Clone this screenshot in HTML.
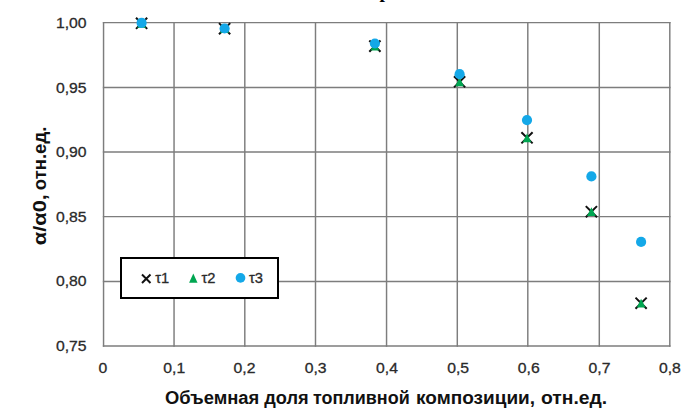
<!DOCTYPE html>
<html><head><meta charset="utf-8">
<style>
html,body{margin:0;padding:0;background:#fff;}
body{width:700px;height:413px;overflow:hidden;position:relative;}
svg{position:absolute;left:0;top:0;}
.lab{font-family:"Liberation Sans",sans-serif;font-size:15.0px;fill:#2a2a2a;stroke:#2a2a2a;stroke-width:0.3px;}
.leg{font-family:"Liberation Sans",sans-serif;font-size:14.7px;fill:#2a2a2a;stroke:#2a2a2a;stroke-width:0.3px;}
.tit{font-family:"Liberation Sans",sans-serif;font-size:18.9px;font-weight:bold;fill:#111;}
</style></head>
<body>
<svg width="700" height="413" viewBox="0 0 700 413">
<text x="379.6" y="-2.2" style="font-family:'Liberation Serif',serif;font-size:19.5px;font-weight:bold;fill:#000">р</text>
<g stroke="#7d7d7d" stroke-width="1.45" fill="none" stroke-linecap="square">
<path d="M103.55 22.6H669.8M103.55 87.4H669.8M103.55 152.0H669.8M103.55 216.6H669.8M103.55 281.4H669.8M103.55 346.0H669.8"/>
<path d="M103.55 22.6V346.0M174.05 22.6V346.0M244.8 22.6V346.0M315.5 22.6V346.0M386.55 22.6V346.0M457.3 22.6V346.0M527.8 22.6V346.0M599.3 22.6V346.0M669.8 22.6V346.0"/>
</g>
<g class="lab" text-anchor="end">
<text x="86.6" y="28.0" textLength="30.65" lengthAdjust="spacingAndGlyphs">1,00</text>
<text x="86.6" y="92.6" textLength="30.65" lengthAdjust="spacingAndGlyphs">0,95</text>
<text x="86.6" y="157.2" textLength="30.65" lengthAdjust="spacingAndGlyphs">0,90</text>
<text x="86.6" y="221.8" textLength="30.65" lengthAdjust="spacingAndGlyphs">0,85</text>
<text x="86.6" y="286.4" textLength="30.65" lengthAdjust="spacingAndGlyphs">0,80</text>
<text x="86.6" y="351.0" textLength="30.65" lengthAdjust="spacingAndGlyphs">0,75</text>
</g>
<g class="lab" text-anchor="middle">
<text x="103" y="373.3" textLength="8.76" lengthAdjust="spacingAndGlyphs">0</text>
<text x="174.25" y="373.3" textLength="21.89" lengthAdjust="spacingAndGlyphs">0,1</text>
<text x="244.5" y="373.3" textLength="21.89" lengthAdjust="spacingAndGlyphs">0,2</text>
<text x="315.6" y="373.3" textLength="21.89" lengthAdjust="spacingAndGlyphs">0,3</text>
<text x="387" y="373.3" textLength="21.89" lengthAdjust="spacingAndGlyphs">0,4</text>
<text x="458.1" y="373.3" textLength="21.89" lengthAdjust="spacingAndGlyphs">0,5</text>
<text x="528.8" y="373.3" textLength="21.89" lengthAdjust="spacingAndGlyphs">0,6</text>
<text x="599.5" y="373.3" textLength="21.89" lengthAdjust="spacingAndGlyphs">0,7</text>
<text x="669.9" y="373.3" textLength="21.89" lengthAdjust="spacingAndGlyphs">0,8</text>
</g>
<text class="tit" x="164.93" y="403.6" textLength="94.30" lengthAdjust="spacingAndGlyphs">Объемная</text>
<text class="tit" x="264.20" y="403.6" textLength="44.45" lengthAdjust="spacingAndGlyphs">доля</text>
<text class="tit" x="312.95" y="403.6" textLength="96.76" lengthAdjust="spacingAndGlyphs">топливной</text>
<text class="tit" x="416.09" y="403.6" textLength="118.98" lengthAdjust="spacingAndGlyphs">композиции,</text>
<text class="tit" x="540.98" y="403.6" textLength="66.27" lengthAdjust="spacingAndGlyphs">отн.ед.</text>
<g transform="translate(45.5 0) rotate(-90)"><text class="tit" x="-245.15" y="0" textLength="51.08" lengthAdjust="spacingAndGlyphs">α/α0,</text><text class="tit" x="-190.18" y="0" textLength="63.50" lengthAdjust="spacingAndGlyphs">отн.ед.</text></g>
<path stroke="#111" stroke-width="2.0" fill="none" d="M136.00 17.70L147.20 28.90M147.20 17.70L136.00 28.90M219.00 23.10L230.20 34.30M230.20 23.10L219.00 34.30M369.30 40.50L380.50 51.70M380.50 40.50L369.30 51.70M454.00 76.20L465.20 87.40M465.20 76.20L454.00 87.40M521.40 132.20L532.60 143.40M532.60 132.20L521.40 143.40M585.80 206.10L597.00 217.30M597.00 206.10L585.80 217.30M635.50 297.60L646.70 308.80M646.70 297.60L635.50 308.80"/>
<path fill="#00a651" d="M141.60 18.90L146.00 27.70L137.20 27.70ZM224.60 24.30L229.00 33.10L220.20 33.10ZM374.90 41.70L379.30 50.50L370.50 50.50ZM459.60 77.40L464.00 86.20L455.20 86.20ZM527.00 133.40L531.40 142.20L522.60 142.20ZM591.40 207.30L595.80 216.10L587.00 216.10ZM641.10 298.80L645.50 307.60L636.70 307.60Z"/>
<g fill="#14a8e8">
<circle cx="141.6" cy="22.9" r="5.1"/>
<circle cx="224.6" cy="28.5" r="5.1"/>
<circle cx="374.9" cy="43.5" r="5.1"/>
<circle cx="459.6" cy="74.2" r="5.1"/>
<circle cx="527.0" cy="120.1" r="5.1"/>
<circle cx="591.4" cy="176.4" r="5.1"/>
<circle cx="641.1" cy="241.9" r="5.1"/>
</g>
<rect x="121" y="258" width="157" height="40" fill="#fff" stroke="#000" stroke-width="2"/>
<path d="M142 274.5l8.5 8.5M150.5 274.5l-8.5 8.5" stroke="#111" stroke-width="2"/>
<text class="leg" x="155.3" y="283">τ1</text>
<path d="M193.3 273.6l4.2 9.2h-8.4z" fill="#00a651"/>
<text class="leg" x="201.5" y="283">τ2</text>
<circle cx="240.5" cy="277.9" r="4.85" fill="#14a8e8"/>
<text class="leg" x="249" y="283">τ3</text>
</svg>
</body></html>
